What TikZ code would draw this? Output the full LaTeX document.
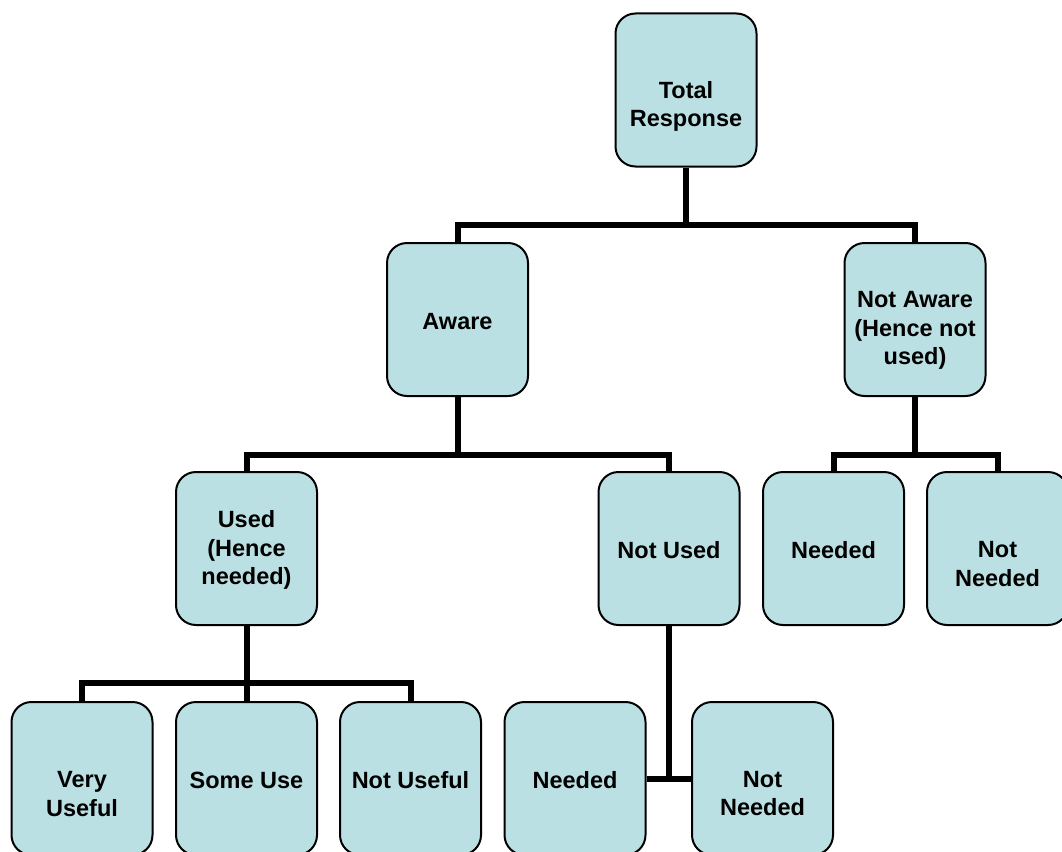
\documentclass[tikz,border=0pt]{standalone}
\usepackage{fontspec}
\setmainfont{Liberation Sans}
\definecolor{boxfill}{RGB}{187,224,227}
\begin{document}
\begin{tikzpicture}[x=1pt,y=-1pt,
  box/.style={draw=black, line width=2pt, fill=boxfill, rounded corners=20pt,
    minimum width=141pt, minimum height=153pt, inner sep=0pt},
  lbl/.style={align=center, inner sep=0pt, font=\bfseries\fontsize{23.5}{28.5}\selectfont},
  conn/.style={draw=black, line width=6pt}]
\useasboundingbox (0,0) rectangle (1062,851);
% junction points
\coordinate (j1) at (686,225);
\coordinate (j2) at (457.5,455);
\coordinate (j3) at (915,455);
\coordinate (j4) at (246.5,683);
% boxes
\node[box] (tr) at (686,90) {};
\node[box] (aw) at (457.5,319.5) {};
\node[box] (na) at (915,319.5) {};
\node[box] (us) at (246.5,548.5) {};
\node[box] (nu) at (669,548.5) {};
\node[box] (nd1) at (833.5,548.5) {};
\node[box] (nn1) at (997.5,548.5) {};
\node[box] (vu) at (82,778.5) {};
\node[box] (su) at (246.5,778.5) {};
\node[box] (nuf) at (410.5,778.5) {};
\node[box] (nd2) at (575,778.5) {};
\node[box] (nn2) at (762.5,778.5) {};
% connectors
\draw[conn] (tr.south) -- (j1);
\draw[conn] (aw.north) |- (j1) -| (na.north);
\draw[conn] (aw.south) -- (j2);
\draw[conn] (us.north) |- (j2) -| (nu.north);
\draw[conn] (na.south) -- (j3);
\draw[conn] (nd1.north) |- (j3) -| (nn1.north);
\draw[conn] (us.south) -- (j4);
\draw[conn] (vu.north) |- (j4) -| (nuf.north);
\draw[conn] (su.north) -- (j4);
\draw[conn] (nd2.east) -- (nn2.west);
\draw[conn] (nu.south) -- (nu.south |- nd2.east);
% labels
\node[lbl] (trt) at (686,106.5) {Total\\Response};
\node[lbl] (awt) at (457.5,322) {Aware};
\node[lbl] (nat) at (915,330.5) {Not Aware\\(Hence not\\used)};
\node[lbl] (ust) at (246.5,550) {Used\\(Hence\\needed)};
\node[lbl] (nut) at (669,550) {Not Used};
\node[lbl] (nd1t) at (833.5,550) {Needed};
\node[lbl] (nn1t) at (997.5,564) {Not\\Needed};
\node[lbl] (vut) at (82,794) {Very\\Useful};
\node[lbl] (sut) at (246.5,780) {Some Use};
\node[lbl] (nuft) at (410.5,780) {Not Useful};
\node[lbl] (nd2t) at (575,780) {Needed};
\node[lbl] (nn2t) at (762.5,793.5) {Not\\Needed};
\end{tikzpicture}
\end{document}
